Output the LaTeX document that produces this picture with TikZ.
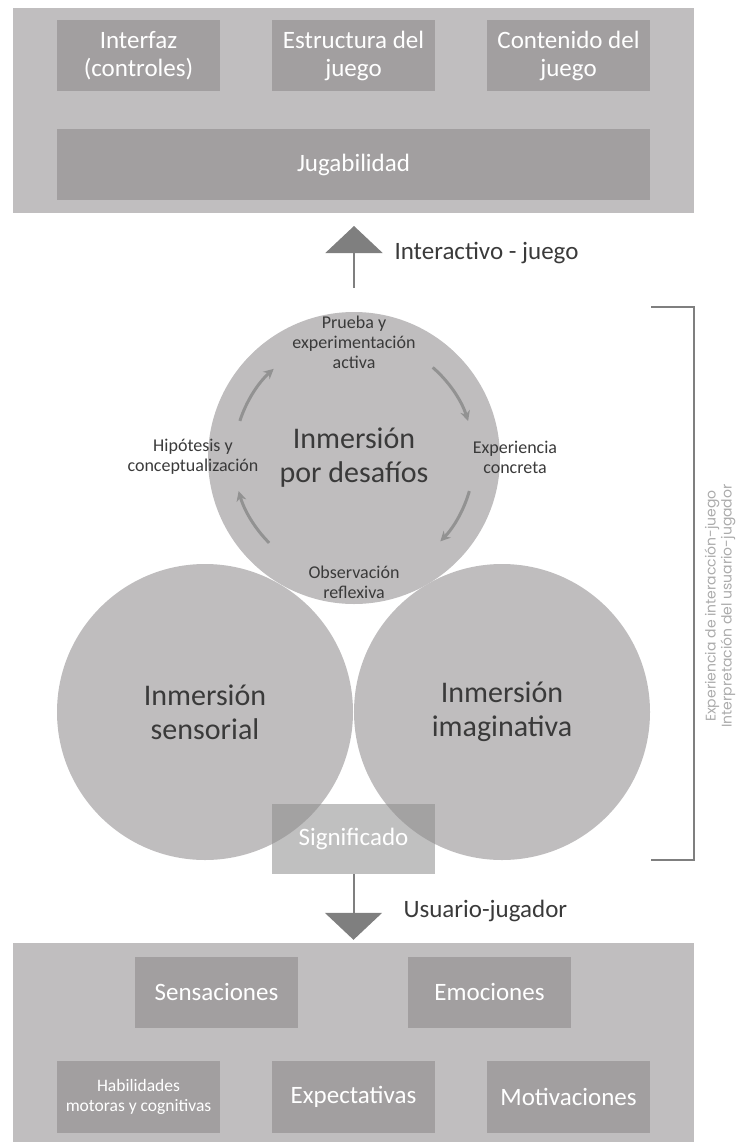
\documentclass[tikz,border=0pt]{standalone}
\usepackage{fontspec}
\setmainfont{Carlito}
\newfontfamily\sidefont{Poppins}
\usetikzlibrary{arrows,arrows.meta,positioning}

\definecolor{panelgray}{HTML}{C0BEBF}
\definecolor{boxgray}{HTML}{A29FA0}
\definecolor{circgray}{HTML}{BFBDBE}
\definecolor{arrowgray}{HTML}{7F7F7F}
\definecolor{textgray}{HTML}{3A3A3A}
\definecolor{sidegray}{HTML}{ABABAB}

\tikzset{
  panel/.style={fill=panelgray, minimum width=681pt, inner sep=0pt},
  item/.style={fill=boxgray, minimum width=163pt, minimum height=71pt, inner sep=0pt,
    text=white, align=center, font=\fontsize{25}{28}\selectfont},
  immersion/.style={circle, fill=circgray, inner sep=0pt, text=textgray, align=center,
    font=\fontsize{30}{34}\selectfont},
  phase/.style={text=textgray, align=center, font=\fontsize{18}{20}\selectfont},
  flow/.style={draw=arrowgray, line width=2pt, -{Triangle[width=57pt,length=27pt]}},
  cycle/.style={draw=arrowgray!85, line width=3pt, -{Stealth[length=10pt,width=10pt]}},
  flowlabel/.style={anchor=west, text=textgray, font=\fontsize{25}{28}\selectfont}
}

\begin{document}
\begin{tikzpicture}[x=1pt,y=-1pt,node distance=215pt]
  \useasboundingbox (0,0) rectangle (739,1142);

  % juego
  \node[panel, minimum height=205pt] (juego) at (353.5,110.5) {};
  \node[item] (interfaz)    at (138.5,55.5)         {Interfaz\\(controles)};
  \node[item] (estructura)  [right of=interfaz]     {Estructura del\\juego};
  \node[item] (contenido)   [right of=estructura]   {Contenido del\\juego};
  \node[item, minimum width=593pt] (jugabilidad) at (353.5,164.5) {Jugabilidad};

  % inmersiones
  \node[immersion, minimum size=292pt] (desafios)  at (354,458)  {Inmersión\\por desafíos};
  \node[immersion, minimum size=296pt] (sensorial) at (205,712)  {Inmersión\\sensorial};
  \node[immersion, minimum size=296pt] (imaginat)  at (502,712)  {Inmersión\\imaginativa};
  \node[item, fill=black!45, fill opacity=0.55, text opacity=1, minimum height=70pt]
       (significado) at (353.5,839) {Significado};

  % ciclo
  \node[phase] (prueba)      at (354,342) {Prueba y\\experimentación\\activa};
  \node[phase] (experiencia) at (515,457) {Experiencia\\concreta};
  \node[phase] (observacion) at (354,582) {Observación\\reflexiva};
  \node[phase] (hipotesis)   at (193,457) {Hipótesis y\\conceptualización};
  \draw[cycle] (desafios.center) ++(-162:120) arc[start angle=-162, end angle=-132, radius=120];
  \draw[cycle] (desafios.center) ++(-49:120)  arc[start angle=-49,  end angle=-18,  radius=120];
  \draw[cycle] (desafios.center) ++(16:120)   arc[start angle=16,   end angle=44,   radius=120];
  \draw[cycle] (desafios.center) ++(135:120)  arc[start angle=135,  end angle=164,  radius=120];

  % flechas
  \coordinate (upfoot) at (354,288);
  \coordinate (uptip)  at (354,226);
  \draw[flow] (upfoot) -- (uptip);
  \node[flowlabel] (interactivo) at (391,253) {Interactivo - juego};
  \node[panel, minimum height=199pt] (jugador) at (353.5,1042.5) {};
  \draw[flow, shorten >=3pt] (significado.south) -- (jugador.north);
  \node[flowlabel] (usuario) at (400,911) {Usuario-jugador};

  % corchete
  \coordinate (bra1) at (651,307);
  \coordinate (bra2) at (694,307);
  \coordinate (bra3) at (694,860);
  \coordinate (bra4) at (651,860);
  \draw[arrowgray, line width=1.4pt] (bra1) -- (bra2) -- (bra3) -- (bra4);
  \node[rotate=90, text=sidegray, align=center, font=\sidefont\fontsize{14}{16}\selectfont]
       (experiencia-lado) at (720,606) {Experiencia de interacción-juego\\Interpretación del usuario-jugador};

  % usuario
  \node[item] (sensaciones)  at (216.5,992)  {Sensaciones};
  \node[item] (emociones)    [right of=sensaciones, node distance=273pt] {Emociones};
  \node[item, minimum height=72pt, font=\fontsize{17.5}{20}\selectfont]
       (habilidades)  at (138.5,1097) {Habilidades\\motoras y cognitivas};
  \node[item, minimum height=72pt] (expectativas) [right of=habilidades]  {Expectativas};
  \node[item, minimum height=72pt] (motivaciones) [right of=expectativas] {Motivaciones};
\end{tikzpicture}
\end{document}
